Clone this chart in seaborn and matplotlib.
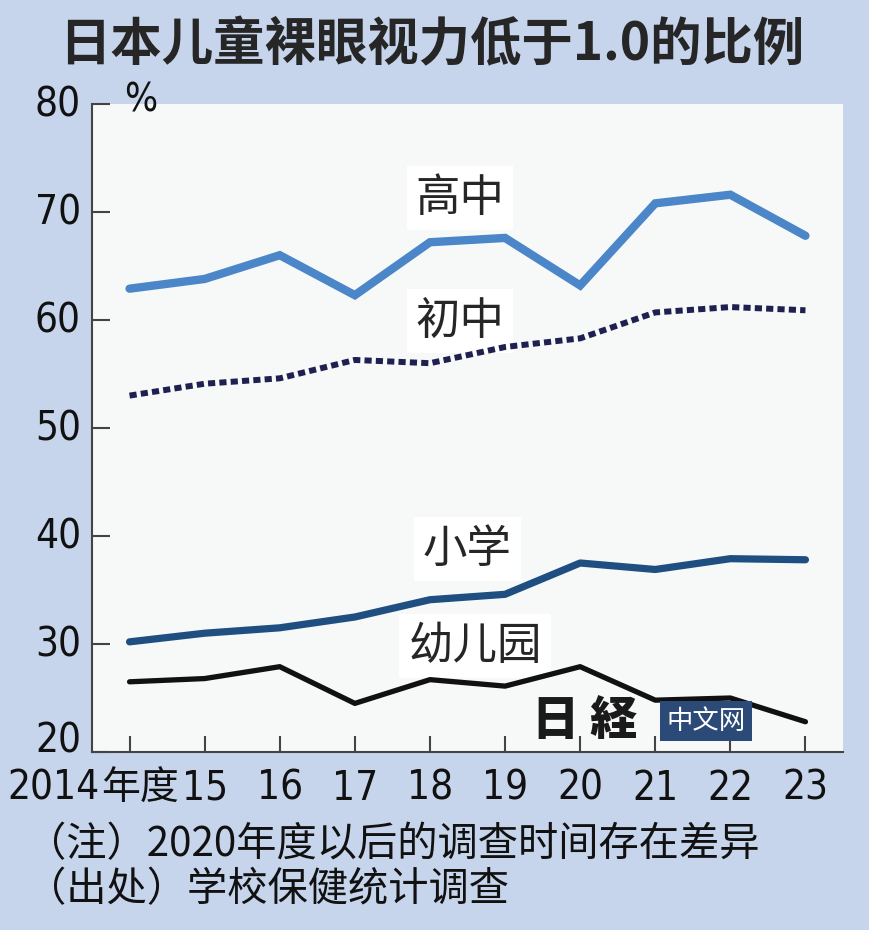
import matplotlib
matplotlib.use("Agg")
import matplotlib.pyplot as plt
import matplotlib.transforms as mtransforms
from matplotlib import font_manager
import seaborn as sns
import pandas as pd

# 数据
years = [2014, 2015, 2016, 2017, 2018, 2019, 2020, 2021, 2022, 2023]
year_labels = ["2014年度", "15", "16", "17", "18", "19", "20", "21", "22", "23"]
y_ticks = [20, 30, 40, 50, 60, 70, 80]
gaozhong = [62.9, 63.8, 66.0, 62.3, 67.2, 67.6, 63.2, 70.8, 71.6, 67.8]
chuzhong = [53.0, 54.1, 54.6, 56.3, 56.0, 57.5, 58.3, 60.7, 61.2, 60.9]
xiaoxue = [30.2, 31.0, 31.5, 32.5, 34.1, 34.6, 37.5, 36.9, 37.9, 37.8]
youer = [26.5, 26.8, 27.9, 24.5, 26.7, 26.1, 27.9, 24.8, 25.0, 22.8]

sns.set_style("ticks")
plt.rcParams['font.family'] = ['Noto Sans CJK SC', 'DejaVu Sans']

# 数字用窄体字（有就用）
installed = {(f.name, f.stretch) for f in font_manager.fontManager.ttflist}
names = {n for n, _ in installed}
num_stretch = "normal"
if "Liberation Sans Narrow" in names:
    num_font = ["Liberation Sans Narrow", "Noto Sans CJK SC"]
    narrow = True
elif any(n == "DejaVu Sans" and s in ("condensed", "semi-condensed") for n, s in installed):
    num_font = ["DejaVu Sans", "Noto Sans CJK SC"]
    num_stretch = "condensed"
    narrow = True
else:
    num_font = ["Liberation Sans", "Noto Sans CJK SC"]
    narrow = False

bg = "#c6d5eb"
fig = plt.figure(figsize=(8.7, 9.3), dpi=100, facecolor=bg)
ax = fig.add_axes([92/870, 1-752/930, (843-92)/870, (752-104)/930])
ax.set_facecolor("#f7f8f8")

df = pd.DataFrame({"year": years, "高中": gaozhong, "初中": chuzhong,
                   "小学": xiaoxue, "幼儿园": youer})

sns.lineplot(data=df, x="year", y="高中", ax=ax, color="#4a86c8", lw=6,
             solid_capstyle="round", solid_joinstyle="miter", zorder=3)
sns.lineplot(data=df, x="year", y="初中", ax=ax, color="#1e2150", lw=4.3,
             dashes=False, linestyle=(0, (1.2, 0.7)), dash_capstyle="butt", zorder=3)
sns.lineplot(data=df, x="year", y="小学", ax=ax, color="#1f4f80", lw=5.2,
             solid_capstyle="round", zorder=3)
sns.lineplot(data=df, x="year", y="幼儿园", ax=ax, color="#111111", lw=3.8,
             solid_capstyle="round", zorder=3)

num_size = 29 if narrow else 28
ax.set_xlim(2013.5, 2023.5)
ax.set_ylim(20, 80)
ax.set_xticks(years)
# 第一个标签: 数字部分作为刻度标签, “年度”另写
first_num = year_labels[0][:4]
first_suffix = year_labels[0][4:]
ax.set_xticklabels([first_num] + year_labels[1:], family=num_font,
                   fontsize=num_size, fontstretch=num_stretch)
ax.set_yticks(y_ticks)
ax.set_yticklabels([str(v) for v in y_ticks], family=num_font,
                   fontsize=num_size, fontstretch=num_stretch)
ax.set_xlabel("")
ax.set_ylabel("")

for s in ["top", "right"]:
    ax.spines[s].set_visible(False)
for s in ["left", "bottom"]:
    ax.spines[s].set_color("#444444")
    ax.spines[s].set_linewidth(1.5)
ax.tick_params(axis="y", direction="in", length=13, width=1.5,
               color="#444444", pad=8, labelcolor="#111111")
ax.tick_params(axis="x", direction="in", length=11.5, width=1.5,
               color="#444444", pad=12, labelcolor="#111111")

# y 轴标签略向上, “20”贴着底边
for i, t in enumerate(ax.yaxis.get_major_ticks()):
    dy = 0.15 if i == 0 else 0.03
    t.label1.set_transform(t.label1.get_transform() +
                           mtransforms.ScaledTranslation(0, dy, fig.dpi_scale_trans))

# 2014 标签右对齐, 后面接“年度”
split_px = 100
t0 = ax.xaxis.get_major_ticks()[0]
t0.label1.set_horizontalalignment("right")
t0.label1.set_transform(t0.label1.get_transform() +
                        mtransforms.ScaledTranslation((split_px - 130)/100, 0,
                                                      fig.dpi_scale_trans))
fig.text((split_px + 1)/870, 1-800/930, first_suffix,
         fontsize=28, ha="left", va="baseline", color="#111111")

# 系列标签
box = dict(boxstyle="square,pad=0.2", facecolor="white", edgecolor="none")
ax.text(2018.4, 71.3, "高中", fontsize=32, ha="center", va="center", bbox=box, zorder=2)
ax.text(2018.4, 59.9, "初中", fontsize=32, ha="center", va="center", bbox=box, zorder=2)
ax.text(2018.5, 38.8, "小学", fontsize=32, ha="center", va="center", bbox=box, zorder=2)
ax.text(2018.6, 29.8, "幼儿园", fontsize=32, ha="center", va="center", bbox=box, zorder=2)

# 水印
fig.text(585/870, 1-721/930, "日 経", fontsize=34, fontweight="heavy",
         family=['Noto Sans CJK JP'], color="#1a1a1a", ha="center", va="center")
fig.text(706/870, 1-721/930, "中文网", fontsize=19, color="white",
         ha="center", va="center",
         bbox=dict(boxstyle="square,pad=0.25", facecolor="#2b4a78", edgecolor="none"))

# 标题、单位、注释
fig.text(0.496, 1-45/930, "日本儿童裸眼视力低于1.0的比例", fontsize=37,
         fontweight="bold", ha="center", va="center")
fig.text(141/870, 1-100/930, "%", family=num_font, fontsize=28,
         fontstretch=num_stretch, ha="center", va="center", color="#111111")
fig.text(26/870, 1-845/930, "（注）2020年度以后的调查时间存在差异", fontsize=29,
         ha="left", va="center", color="#111111")
fig.text(26/870, 1-890/930, "（出处）学校保健统计调查", fontsize=29,
         ha="left", va="center", color="#111111")

fig.savefig("out.png", dpi=100, facecolor=bg)
